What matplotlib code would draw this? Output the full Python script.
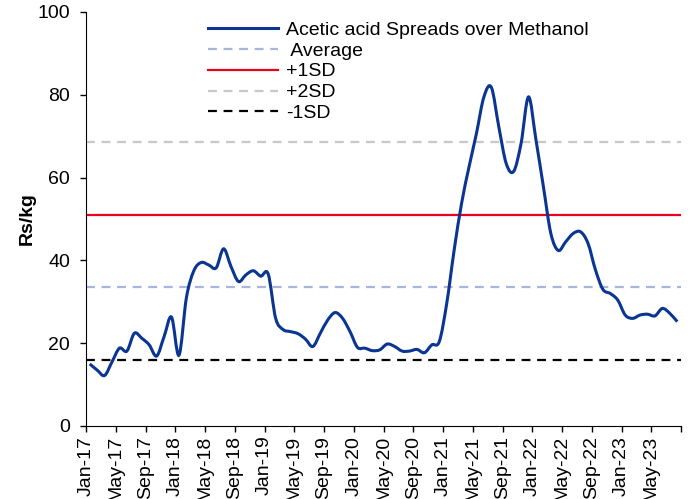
import numpy as np
import matplotlib
matplotlib.use("Agg")
import matplotlib.pyplot as plt
from matplotlib.path import Path
from matplotlib.patches import PathPatch
from matplotlib.lines import Line2D

plt.rcParams['font.family'] = ['Liberation Sans', 'DejaVu Sans']

# monthly spread, Jan-17 .. Aug-23 (Rs/kg)
spread = [15.0, 13.5, 12.2, 15.5, 18.8, 18.1, 22.4, 21.2, 19.6, 16.9, 21.6, 26.3,
          17.1, 31.0, 37.5, 39.5, 38.9, 38.2, 42.8, 38.5, 34.9, 36.5, 37.5, 36.2,
          36.7, 26.0, 23.3, 22.8, 22.3, 21.0, 19.2, 22.4, 25.6, 27.4, 26.0, 22.8,
          19.0, 18.8, 18.2, 18.4, 19.8, 19.2, 18.1, 18.1, 18.5, 17.7, 19.6, 20.4,
          29.6, 42.5, 53.8, 62.6, 70.7, 79.5, 81.8, 72.3, 63.4, 61.5, 68.3, 79.5,
          69.1, 57.8, 46.5, 42.4, 44.5, 46.5, 46.9, 44.1, 37.7, 33.0, 32.0, 30.4,
          26.8, 26.0, 26.8, 27.0, 26.6, 28.4, 27.2, 25.2]

average = 33.5
plus_1sd = 51.0
plus_2sd = 68.6
minus_1sd = 16.0

tick_labels = ['Jan-17', 'May-17', 'Sep-17', 'Jan-18', 'May-18', 'Sep-18',
               'Jan-19', 'May-19', 'Sep-19', 'Jan-20', 'May-20', 'Sep-20',
               'Jan-21', 'May-21', 'Sep-21', 'Jan-22', 'May-22', 'Sep-22',
               'Jan-23', 'May-23']

FS = 14


def smooth_path(x, y):
    """catmull-rom style bezier through the points (like excel smoothed line)"""
    pts = np.column_stack([x, y])
    verts = [pts[0]]
    codes = [Path.MOVETO]
    n = len(pts)
    for i in range(n - 1):
        p0 = pts[i - 1] if i > 0 else pts[i]
        p1 = pts[i]
        p2 = pts[i + 1]
        p3 = pts[i + 2] if i + 2 < n else pts[i + 1]
        c1 = p1 + (p2 - p0) / 6.0
        c2 = p2 - (p3 - p1) / 6.0
        verts += [c1, c2, p2]
        codes += [Path.CURVE4] * 3
    return Path(verts, codes)


fig = plt.figure(figsize=(6.96, 4.99), dpi=100)
ax = fig.add_axes([86 / 696, 1 - 426 / 499, 595 / 696, 414 / 499])

x = np.arange(len(spread)) + 0.5
line_col = '#0A3593'
ax.add_patch(PathPatch(smooth_path(x, spread), facecolor='none',
                       edgecolor=line_col, lw=2.2, zorder=5))

ax.axhline(average, color='#A9B5DB', lw=1.6, dashes=(4, 3))
ax.axhline(plus_1sd, color='#E8001C', lw=1.6)
ax.axhline(plus_2sd, color='#C8C8C8', lw=1.6, dashes=(4, 3))
ax.axhline(minus_1sd, color='black', lw=1.6, dashes=(4, 3))

ax.set_xlim(0, 80)
ax.set_ylim(0, 100)
ax.set_yticks(range(0, 101, 20))
ax.set_xticks(list(range(0, 80, 4)) + [80])
ax.set_xticklabels(tick_labels + [''], rotation=90, fontsize=FS)
ax.tick_params(axis='y', labelsize=FS, direction='out', length=4.5, width=1, pad=7)
ax.tick_params(axis='x', direction='out', length=4.5, width=1, pad=2.5)
for s in ['top', 'right']:
    ax.spines[s].set_visible(False)
ax.set_ylabel('Rs/kg', fontsize=FS, fontweight='bold', labelpad=1.5)

handles = [Line2D([], [], color=line_col, lw=2.2),
           Line2D([], [], color='#A9B5DB', lw=1.6, dashes=(4, 3)),
           Line2D([], [], color='#E8001C', lw=1.6),
           Line2D([], [], color='#C8C8C8', lw=1.6, dashes=(4, 3)),
           Line2D([], [], color='black', lw=1.6, dashes=(4, 3))]
labels = ['Acetic acid Spreads over Methanol', ' Average', '+1SD', '+2SD', '-1SD']
fig.legend(handles, labels, loc='upper left', bbox_to_anchor=(208 / 696, 1 - 21 / 499),
           frameon=False, fontsize=FS, handlelength=3.6, handletextpad=0.4,
           labelspacing=0.17, borderpad=0, borderaxespad=0)

fig.savefig('out.png', dpi=100)
